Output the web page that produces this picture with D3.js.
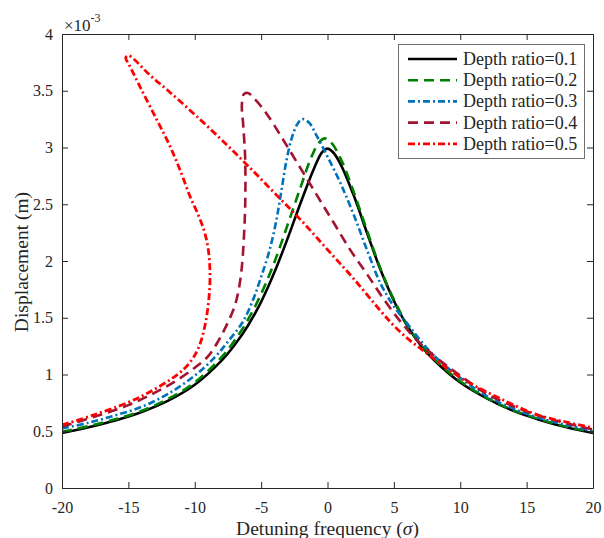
<!DOCTYPE html>
<html>
<head>
<meta charset="utf-8">
<script src="https://cdn.jsdelivr.net/npm/d3@7"></script>
<style>
  body { margin: 0; background: #fff; }
  text { font-family: "Liberation Serif", "Times New Roman", serif; fill: #262626; }
</style>
</head>
<body>
<div id="chart"></div>
<script>
// Tick Values
var xTicks = [-20, -15, -10, -5, 0, 5, 10, 15, 20];
var yTicks = [0, 0.5, 1, 1.5, 2, 2.5, 3, 3.5, 4];

// Legend Labels
var seriesNames = ["Depth ratio=0.1", "Depth ratio=0.2", "Depth ratio=0.3", "Depth ratio=0.4", "Depth ratio=0.5"];

// Series Values [detuning frequency, displacement x 1e-3], in drawing order along each curve
var depth01 = [[-20,0.485],[-18,0.535],[-16,0.595],[-14,0.67],[-12,0.77],[-10,0.91],[-8,1.12],[-7,1.26],[-6,1.43],
  [-5,1.64],[-4,1.9],[-3,2.2],[-2,2.52],[-1,2.82],[-0.4,2.96],[0,2.99],[0.4,2.96],[1,2.85],[2,2.57],[3,2.24],
  [4,1.92],[5,1.65],[6,1.43],[7,1.26],[8,1.13],[10,0.93],[12,0.79],[14,0.68],[16,0.6],[18,0.535],[20,0.485]];

var depth02 = [[-20,0.495],[-18,0.545],[-16,0.605],[-14,0.68],[-12,0.785],[-10,0.93],[-8,1.15],[-7,1.3],[-6,1.48],
  [-5,1.71],[-4,1.99],[-3,2.32],[-2,2.66],[-1.2,2.92],[-0.6,3.05],[-0.2,3.08],[0.3,3.04],[1,2.9],[2,2.6],
  [3,2.26],[4,1.93],[5,1.66],[6,1.44],[7,1.27],[8,1.14],[10,0.94],[12,0.795],[14,0.685],[16,0.605],[18,0.54],[20,0.495]];

var depth03 = [[-20,0.525],[-18,0.575],[-16,0.64],[-14,0.715],[-12,0.83],[-10,0.99],[-8.5,1.15],[-7.5,1.29],
  [-6.4,1.46],[-5.6,1.66],[-5,1.86],[-4.4,2.08],[-3.9,2.33],[-3.5,2.6],[-3.1,2.88],[-2.7,3.08],[-2.3,3.2],
  [-1.9,3.25],[-1.4,3.22],[-0.8,3.1],[0,2.92],[1,2.68],[2,2.4],[3,2.09],[4,1.8],[5,1.6],[6,1.45],[7,1.3],
  [8,1.17],[10,0.97],[12,0.81],[14,0.7],[16,0.615],[18,0.555],[20,0.505]];

var depth04 = [[-20,0.54],[-17.5,0.63],[-15,0.73],[-13,0.84],[-11.6,0.93],[-10,1.06],[-9,1.16],[-8.2,1.3],[-7.5,1.46],
  [-7.0,1.6],[-6.7,1.74],[-6.45,1.95],[-6.3,2.2],[-6.2,2.5],[-6.2,2.9],[-6.35,3.2],[-6.45,3.38],[-6.3,3.47],
  [-6.0,3.48],[-5.5,3.43],[-4.6,3.3],[-3.4,3.08],[-2.1,2.83],[-0.8,2.58],[0.4,2.35],[1.7,2.1],[3.0,1.88],
  [4.2,1.67],[5.2,1.51],[6.2,1.37],[7.2,1.25],[8.5,1.12],[10,0.99],[12,0.83],[14,0.72],[16,0.635],[18,0.57],[20,0.515]];

var depth05 = [[-20,0.555],[-17.7,0.64],[-15.1,0.75],[-13.5,0.84],[-11.9,0.95],[-10.8,1.05],[-10.1,1.15],[-9.6,1.27],
  [-9.25,1.42],[-9.0,1.6],[-8.86,1.8],[-8.88,1.98],[-9.02,2.13],[-9.3,2.27],[-9.75,2.41],[-10.36,2.57],
  [-11.1,2.8],[-11.9,3.02],[-12.84,3.24],[-14.1,3.53],[-14.95,3.73],[-15.2,3.79],[-15.0,3.81],[-14.6,3.78],
  [-13.4,3.64],[-12,3.5],[-10,3.29],[-8,3.07],[-6,2.84],[-4,2.6],[-2,2.36],[0,2.1],[2,1.84],[4,1.56],[5,1.43],
  [6,1.32],[7,1.23],[8,1.14],[10.2,0.96],[12.8,0.8],[15.8,0.645],[18,0.58],[20,0.53]];

// Setup Chart Parameters/Dimensions
var svgWidth = 604;
var svgHeight = 538;
var margin = { top: 34, right: 11, bottom: 50, left: 62 };
var width = svgWidth - margin.left - margin.right;
var height = svgHeight - margin.top - margin.bottom;

var svg = d3.select("#chart")
  .append("svg")
  .attr("width", svgWidth)
  .attr("height", svgHeight);

var chartGroup = svg.append("g")
  .attr("transform", `translate(${margin.left}, ${margin.top})`);

// Scales
var xScale = d3.scaleLinear().domain([-20, 20]).range([0, width]);
var yScale = d3.scaleLinear().domain([0, 4]).range([height, 0]);

// Curve Styles
var styles = [
  { data: depth01, color: "#000000", dash: null, w: 2.6 },
  { data: depth02, color: "#008000", dash: "10,6", w: 2.6 },
  { data: depth03, color: "#0072BD", dash: "7,3,2,3", w: 2.6 },
  { data: depth04, color: "#A2142F", dash: "10,6", w: 2.6 },
  { data: depth05, color: "#FF0000", dash: "7,3,2,3", w: 2.8 }
];

var line = d3.line()
  .x(d => xScale(d[0]))
  .y(d => yScale(d[1]))
  .curve(d3.curveCatmullRom.alpha(0.5));

chartGroup.append("clipPath").attr("id", "clip")
  .append("rect").attr("width", width).attr("height", height);

chartGroup.append("g").attr("clip-path", "url(#clip)")
  .selectAll("path")
  .data(styles)
  .enter()
  .append("path")
  .attr("d", d => line(d.data))
  .attr("fill", "none")
  .attr("stroke", d => d.color)
  .attr("stroke-width", d => d.w)
  .attr("stroke-dasharray", d => d.dash);

// Axes - ticks point inward, box on all four sides
var axisColor = "#262626";
var fmt = d => String(d);
function styleAxis(g) {
  g.selectAll("path, line").attr("stroke", axisColor);
  g.selectAll("text").attr("font-size", 16).attr("font-family", "Liberation Serif").attr("fill", axisColor);
}

chartGroup.append("g")
  .attr("transform", `translate(0, ${height})`)
  .call(d3.axisBottom(xScale).tickValues(xTicks).tickSize(-6).tickSizeOuter(0).tickPadding(13.6).tickFormat(fmt))
  .call(styleAxis);

chartGroup.append("g")
  .call(d3.axisLeft(yScale).tickValues(yTicks).tickSize(-6).tickSizeOuter(0).tickPadding(9).tickFormat(fmt))
  .call(styleAxis);

chartGroup.append("g")
  .call(d3.axisTop(xScale).tickValues(xTicks).tickSize(-6).tickSizeOuter(0).tickFormat(""))
  .call(styleAxis);

chartGroup.append("g")
  .attr("transform", `translate(${width}, 0)`)
  .call(d3.axisRight(yScale).tickValues(yTicks).tickSize(-6).tickSizeOuter(0).tickFormat(""))
  .call(styleAxis);

// Exponent Multiplier
var mult = svg.append("text")
  .attr("x", margin.left + 2)
  .attr("y", 31)
  .attr("font-size", 17);
mult.append("tspan").text("×10");
mult.append("tspan").attr("font-size", 12).attr("dy", -9).text("-3");

// Axis Labels
svg.append("text")
  .attr("x", margin.left + width / 2)
  .attr("y", 535)
  .attr("text-anchor", "middle")
  .attr("font-size", 19.5)
  .html('Detuning frequency (<tspan font-style="italic">σ</tspan>)');

svg.append("text")
  .attr("transform", `translate(28, 262) rotate(-90)`)
  .attr("text-anchor", "middle")
  .attr("font-size", 19.5)
  .text("Displacement (m)");

// Legend
var legend = svg.append("g");
legend.append("rect")
  .attr("x", 398.5).attr("y", 44.5)
  .attr("width", 186).attr("height", 114)
  .attr("fill", "#fff")
  .attr("stroke", "#707070")
  .attr("stroke-width", 1);

var rows = legend.selectAll("g.row")
  .data(styles)
  .enter()
  .append("g")
  .attr("class", "row")
  .attr("transform", (d, i) => `translate(0, ${59 + i * 21.2})`);

rows.append("line")
  .attr("x1", 408).attr("x2", 457)
  .attr("stroke", d => d.color)
  .attr("stroke-width", d => d.w)
  .attr("stroke-dasharray", d => d.dash);

rows.append("text")
  .attr("x", 463)
  .attr("y", 6)
  .attr("font-size", 18)
  .text((d, i) => seriesNames[i]);
</script>
</body>
</html>
